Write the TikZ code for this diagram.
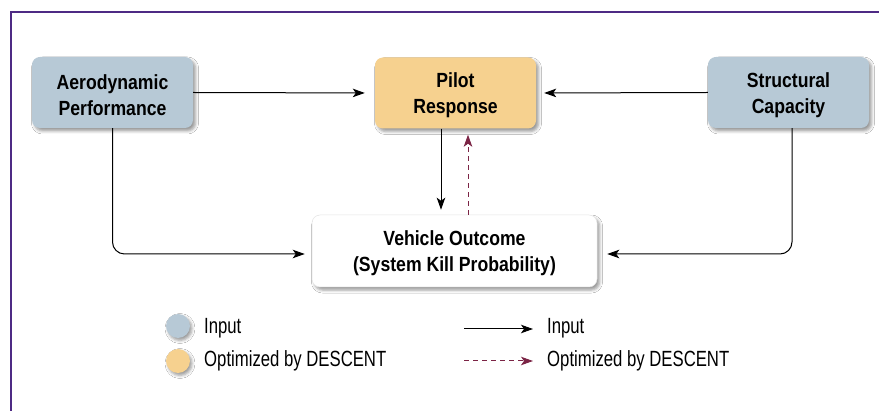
\documentclass[tikz,border=0pt]{standalone}
\usepackage{fontspec}
\setmainfont{Liberation Sans}
\newfontfamily\boxfont[FakeStretch=0.86]{Liberation Sans}
\newfontfamily\legfont[FakeStretch=0.76]{Liberation Sans}
\usetikzlibrary{arrows.meta,shadows.blur}
\definecolor{inblue}{HTML}{B7C9D6}
\definecolor{optor}{HTML}{F6D18F}
\definecolor{framec}{HTML}{4E2A84}
\definecolor{maroonc}{HTML}{7B2445}
\newcommand{\toplift}{\rule{0pt}{20pt}}
\tikzset{
  box/.style={rounded corners=8pt, minimum width=161pt, minimum height=71pt,
    align=center, inner sep=0pt,
    font=\boxfont\bfseries\fontsize{20.5}{26}\selectfont,
    blur shadow={shadow xshift=2.5pt, shadow yshift=-3pt, shadow blur radius=3pt}},
  inbox/.style={box, fill=inblue},
  optbox/.style={box, fill=optor},
  conn/.style={-{Stealth[length=12pt,width=8.5pt,inset=3pt]}, line width=1pt},
  dconn/.style={conn, maroonc, dash pattern=on 5pt off 4pt},
  legcirc/.style={circle, minimum size=24pt, inner sep=0pt,
    blur shadow={shadow xshift=2pt, shadow yshift=-2.5pt, shadow blur radius=3pt}},
  legtext/.style={anchor=west, inner sep=0pt, font=\legfont\fontsize{22}{26}\selectfont}
}
\begin{document}
\begin{tikzpicture}[x=1pt,y=-1pt]
\useasboundingbox (0,0) rectangle (879,411);
\fill[white] (0,0) rectangle (879,411);
\draw[framec, line width=1.5pt] (11,411) -- (11,12) -- (879,12);

\node[inbox] (aero) at (112.5,92.5) {\toplift Aerodynamic\\Performance};
\node[optbox] (pilot) at (455.5,93) {\toplift Pilot\\Response};
\node[inbox] (struct) at (788.5,92.5) {\toplift Structural\\Capacity};
\node[box, fill=white, draw=gray!20, line width=0.5pt, minimum width=285pt, minimum height=72pt]
  (veh) at (454.5,251) {\toplift Vehicle Outcome\\(System Kill Probability)};

\draw[conn, shorten >=10pt] (aero.east) -- (pilot.west);
\draw[conn, shorten >=8pt] (struct.west) -- (pilot.east);
\draw[conn, shorten >=5pt] ([xshift=-14.5pt]pilot.south) -- ([xshift=-14.5pt]pilot.south |- veh.north);
\draw[dconn, shorten >=6pt] ([xshift=12.5pt]pilot.south |- veh.north) -- ([xshift=12.5pt]pilot.south);
\draw[conn, rounded corners=12pt, shorten >=7pt] (aero.south) |- ([yshift=-3pt]veh.west);
\draw[conn, rounded corners=12pt, shorten >=10pt] ([xshift=3.5pt]struct.south) |- ([yshift=-3pt]veh.east);

\node[legcirc, fill=inblue] (lc1) at (178,326) {};
\node[legcirc, fill=optor] (lc2) at (178,361) {};
\node[legtext] (lt1) at (204,328) {Input};
\node[legtext] (lt2) at (204,361) {Optimized by DESCENT};

\coordinate (la1) at (464,329);
\coordinate (lb1) at (533,329);
\coordinate (la2) at (464,361);
\coordinate (lb2) at (533,361);
\draw[conn] (la1) -- (lb1);
\draw[dconn] (la2) -- (lb2);
\node[legtext] (lt3) at (547,328) {Input};
\node[legtext] (lt4) at (547,361) {Optimized by DESCENT};
\end{tikzpicture}
\end{document}
